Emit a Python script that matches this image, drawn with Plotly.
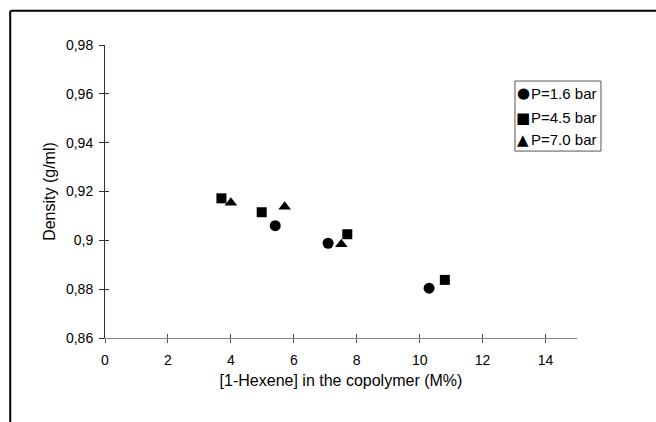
import plotly.graph_objects as go

# Copolymer density vs. 1-hexene content at three ethylene pressures
x_p16 = [5.41, 7.09, 10.30]
y_p16 = [0.906, 0.8988, 0.8804]

x_p45 = [3.70, 4.98, 7.70, 10.80]
y_p45 = [0.9172, 0.9115, 0.9025, 0.8838]

x_p70 = [4.00, 5.71, 7.51]
y_p70 = [0.9154, 0.9138, 0.8984]

series_names = ["P=1.6 bar", "P=4.5 bar", "P=7.0 bar"]
series_glyphs = ["\u25CF", "\u25A0", "\u25B2"]

y_ticks = [0.86, 0.88, 0.90, 0.92, 0.94, 0.96, 0.98]
y_ticktext = ["0,86", "0,88", "0,9", "0,92", "0,94", "0,96", "0,98"]
x_ticks = [0, 2, 4, 6, 8, 10, 12, 14]

FAMILY = "Arial, Liberation Sans, sans-serif"
font = dict(family=FAMILY, size=14, color="black")

fig = go.Figure()
fig.add_trace(go.Scatter(x=x_p16, y=y_p16, mode="markers", name=series_names[0],
                         marker=dict(symbol="circle", size=11, color="black")))
fig.add_trace(go.Scatter(x=x_p45, y=y_p45, mode="markers", name=series_names[1],
                         marker=dict(symbol="square", size=10, color="black")))
fig.add_trace(go.Scatter(x=x_p70, y=y_p70, mode="markers", name=series_names[2],
                         marker=dict(symbol="triangle-up", size=11, color="black")))

fig.update_layout(
    width=656, height=422,
    margin=dict(l=105, r=79, t=45, b=84),
    paper_bgcolor="white", plot_bgcolor="white",
    font=font,
    showlegend=False,
    xaxis=dict(range=[0, 15], tickvals=x_ticks, showgrid=False, zeroline=False,
               showline=True, linecolor="#888", linewidth=1,
               ticks="outside", ticklen=4, tickcolor="#555",
               tickfont=dict(size=14), ticklabelstandoff=5,
               title=dict(text="[1-Hexene] in the copolymer (M%)", standoff=8,
                          font=dict(size=16))),
    yaxis=dict(range=[0.86, 0.98], tickvals=y_ticks, ticktext=y_ticktext,
               showgrid=False, zeroline=False,
               showline=True, linecolor="#333", linewidth=1,
               ticks="outside", ticklen=5, tickcolor="#333",
               tickfont=dict(size=14), ticklabelstandoff=3,
               title=dict(text="Density (g/ml)", standoff=6, font=dict(size=16))),
    # companion axes that add the inner half of each crossing tick
    xaxis2=dict(overlaying="x", matches="x", anchor="y", side="bottom",
                tickvals=x_ticks, ticks="inside", ticklen=4, tickcolor="#555",
                showticklabels=False, showgrid=False, zeroline=False, showline=False),
    yaxis2=dict(overlaying="y", matches="y", anchor="x", side="left",
                tickvals=y_ticks, ticks="inside", ticklen=4, tickcolor="#333",
                showticklabels=False, showgrid=False, zeroline=False, showline=False),
)

# dummy trace so the companion axes are rendered
fig.add_trace(go.Scatter(x=[None], y=[None], xaxis="x2", yaxis="y2",
                         showlegend=False, hoverinfo="skip"))

# compact key box in the upper right of the plot
fig.add_shape(type="rect", xref="paper", yref="paper",
              x0=0.8686, x1=1.0508, y0=0.638, y1=0.877,
              line=dict(color="#555", width=1), fillcolor="white")
row_y = [0.836, 0.751, 0.676]
for glyph, name, yy in zip(series_glyphs, series_names, row_y):
    fig.add_annotation(xref="paper", yref="paper", x=0.8856, y=yy,
                       text=glyph, showarrow=False, xanchor="center", yanchor="middle",
                       font=dict(family="DejaVu Sans", size=15, color="black"))
    fig.add_annotation(xref="paper", yref="paper", x=0.8990, y=yy,
                       text=name, showarrow=False, xanchor="left", yanchor="middle",
                       font=dict(family=FAMILY, size=15, color="black"))

# outer frame lines (top and left)
fig.add_shape(type="line", xref="paper", yref="paper",
              x0=-0.2, x1=1.2, y0=1.117, y1=1.117,
              line=dict(color="black", width=2))
fig.add_shape(type="line", xref="paper", yref="paper",
              x0=-0.2008, x1=-0.2008, y0=-0.3, y1=1.117,
              line=dict(color="black", width=2))

fig.write_html("out.html")
